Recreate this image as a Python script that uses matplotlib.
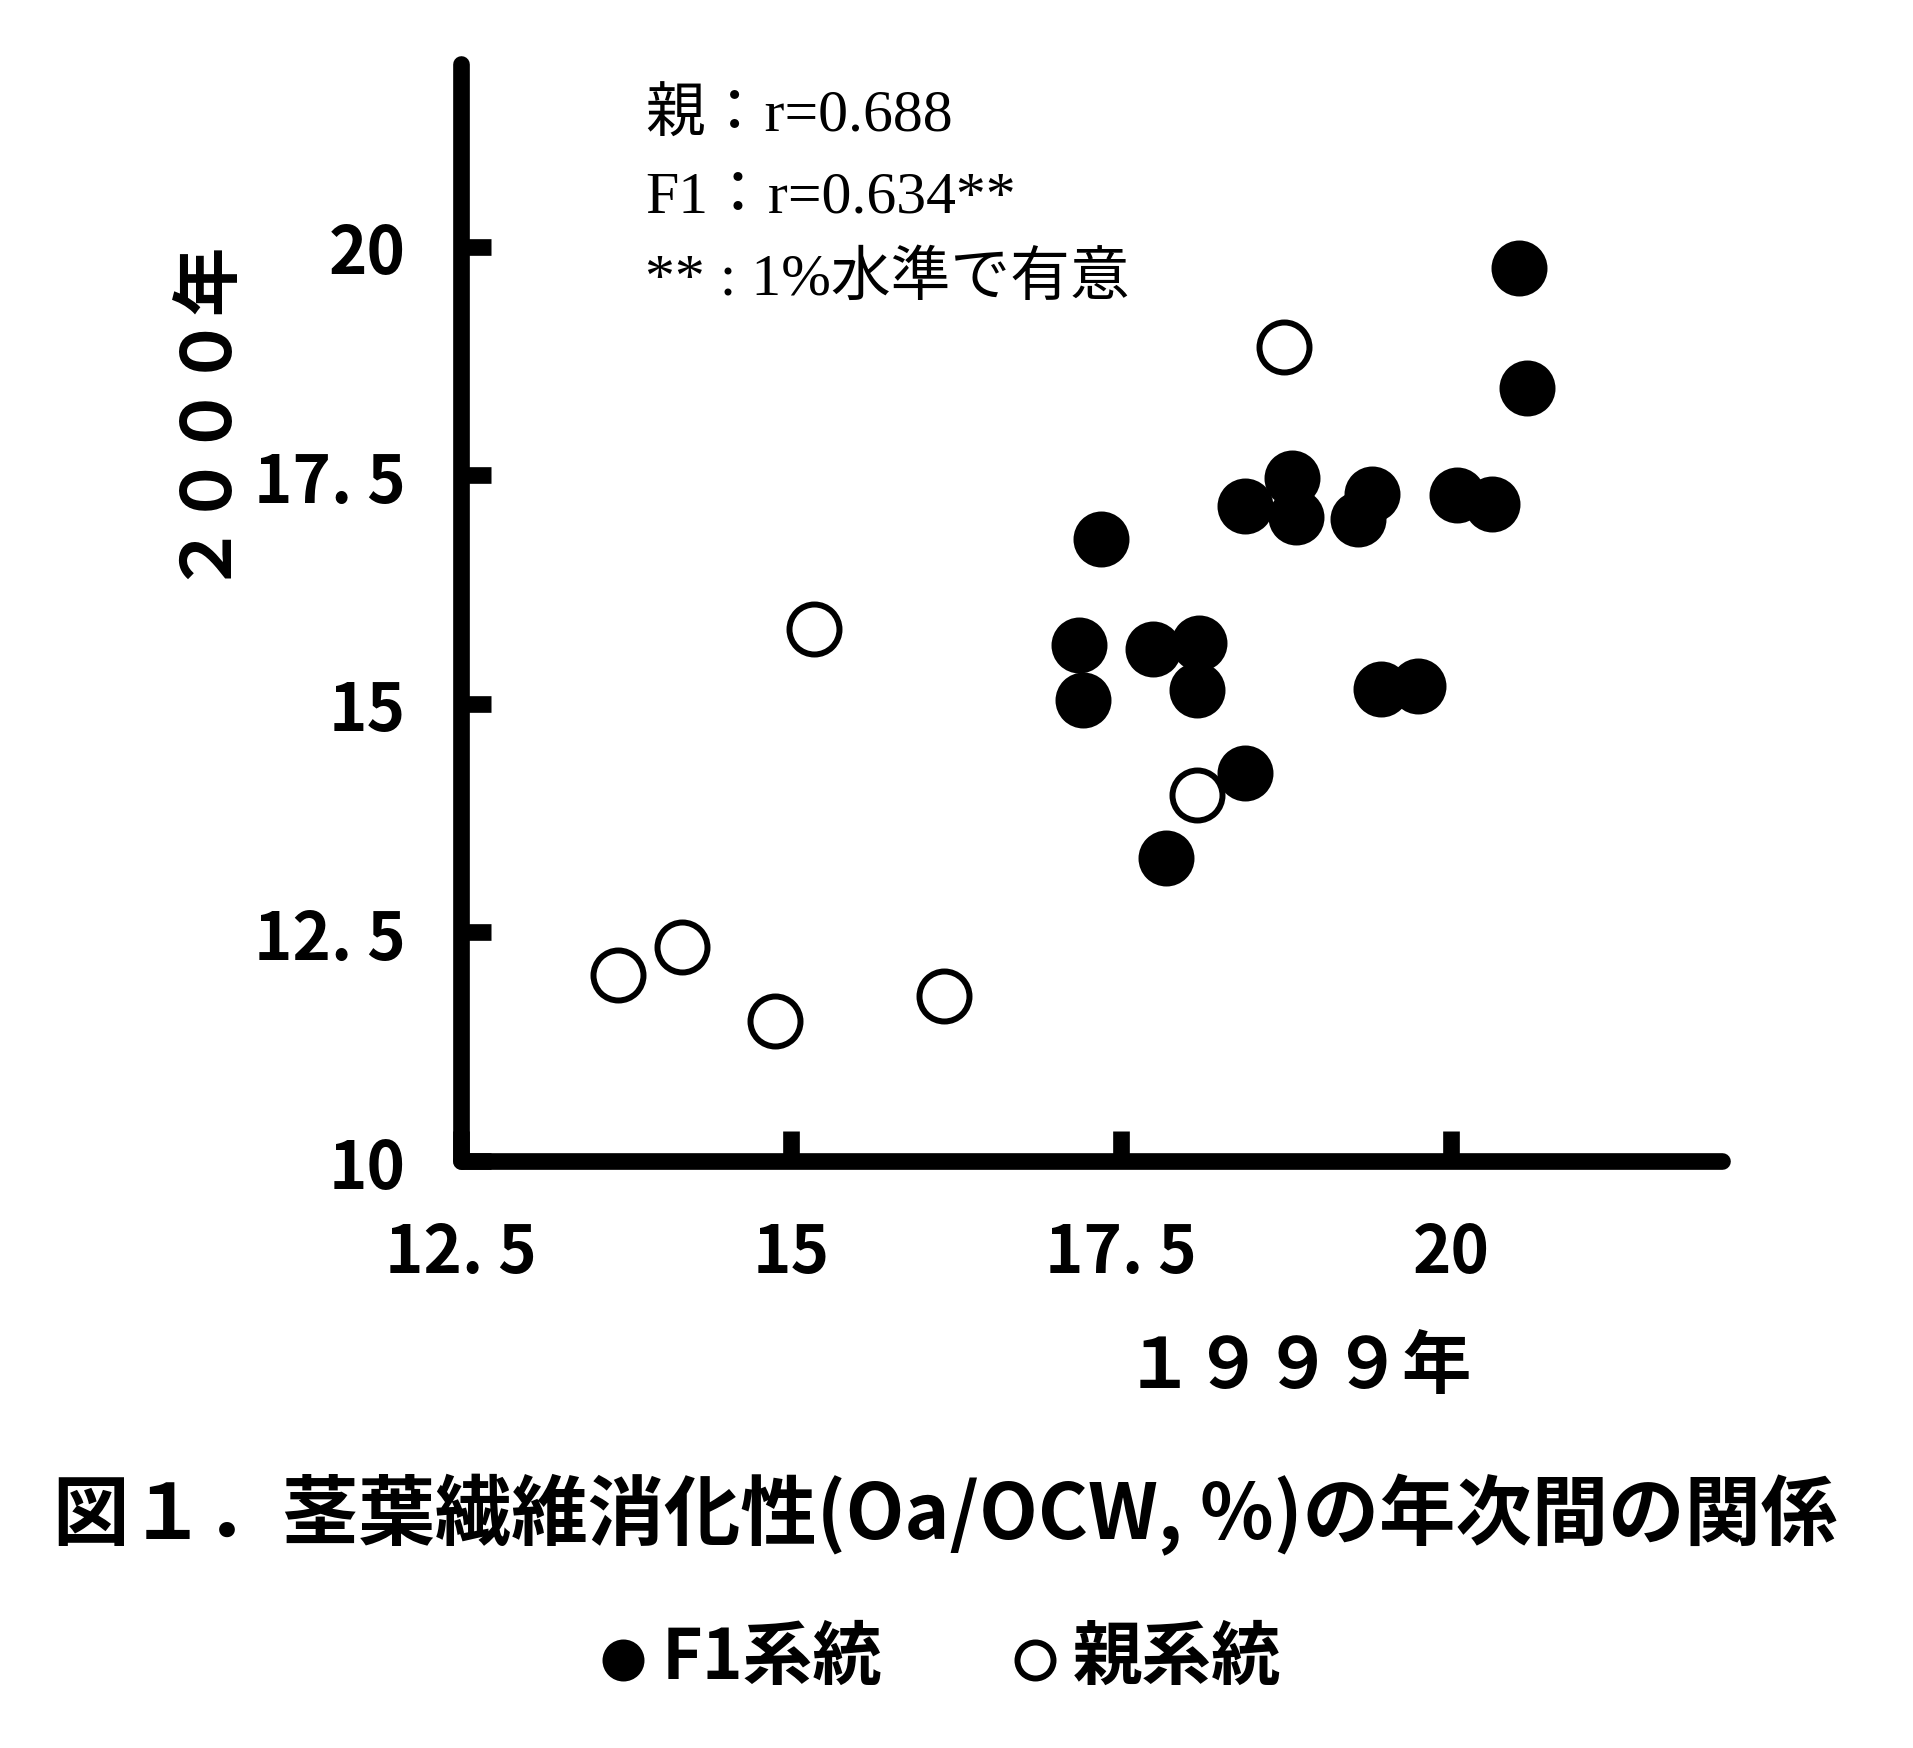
import matplotlib
matplotlib.use("Agg")
import matplotlib.pyplot as plt

plt.rcParams['font.family'] = ['Noto Sans CJK JP', 'DejaVu Sans']

# F1系統 (filled)
f1_1999 = [20.51, 20.57, 20.04, 20.31, 19.40, 19.29, 18.79, 18.82, 18.44, 17.35,
           17.18, 17.21, 17.74, 18.09, 18.07, 19.47, 19.75, 18.44, 17.84]
f1_2000 = [19.77, 18.46, 17.29, 17.19, 17.30, 17.02, 17.47, 17.04, 17.17, 16.81,
           15.64, 15.04, 15.60, 15.67, 15.15, 15.16, 15.20, 14.25, 13.31]

# 親系統 (open)
p_1999 = [18.73, 15.17, 18.07, 13.69, 14.17, 14.88, 16.16]
p_2000 = [18.90, 15.82, 14.00, 12.04, 12.34, 11.53, 11.81]

x_ticks = [12.5, 15, 17.5, 20]
x_ticklabels = ['12. 5', '15', '17. 5', '20']
y_ticks = [10, 12.5, 15, 17.5, 20]
y_ticklabels = ['10', '12. 5', '15', '17. 5', '20']

notes = ['親：r=0.688', 'F1：r=0.634**', '** : 1%水準で有意']

fig = plt.figure(figsize=(19.13, 17.49), dpi=100)
ax = fig.add_axes([0.241, 0.3356, 0.6592, 0.6272])

f1 = ax.scatter(f1_1999, f1_2000, s=1296, c='black', edgecolors='black',
                linewidths=4.3, zorder=3)
par = ax.scatter(p_1999, p_2000, s=1296, c='white', edgecolors='black',
                 linewidths=4.3, zorder=4)

ax.set_xlim(12.5, 22.05)
ax.set_ylim(10, 22)

for side in ['top', 'right']:
    ax.spines[side].set_visible(False)
for side in ['left', 'bottom']:
    ax.spines[side].set_linewidth(12)
    ax.spines[side].set_capstyle('round')

ax.set_xticks(x_ticks)
ax.set_xticklabels(x_ticklabels, fontweight='bold')
ax.set_yticks(y_ticks)
ax.set_yticklabels(y_ticklabels, fontweight='bold')
ax.tick_params(direction='in', length=21.6, width=12, labelsize=47)
ax.tick_params(axis='x', pad=42)
ax.tick_params(axis='y', pad=40)

ax.set_xlabel('１９９９年', fontsize=50, fontweight='bold', va='center')
ax.xaxis.set_label_coords(0.6637, -0.1878)
ax.set_ylabel('２０００年', fontsize=50, fontweight='bold', va='center')
ax.yaxis.set_label_coords(-0.2098, 0.690)

# correlation notes
for i, t in enumerate(notes):
    ax.text(0.1457, [0.9526, 0.8788, 0.804][i], t, transform=ax.transAxes,
            fontsize=43, va='center', ha='left',
            family=['Liberation Serif', 'Noto Sans CJK JP'])

fig.text(0.494, 0.134, '図１．茎葉繊維消化性(Oa/OCW, %)の年次間の関係',
         fontsize=55, fontweight='bold', ha='center', va='center')

fig.legend([f1, par], ['F1系統', '親系統'], loc='center',
           bbox_to_anchor=(0.4925, 0.0515), ncol=2, frameon=False,
           markerscale=0.72, scatterpoints=1, handlelength=0.6,
           handletextpad=0.25, columnspacing=1.9,
           prop={'size': 50, 'weight': 'bold'})

fig.savefig('out.png', dpi=100, facecolor='white')
